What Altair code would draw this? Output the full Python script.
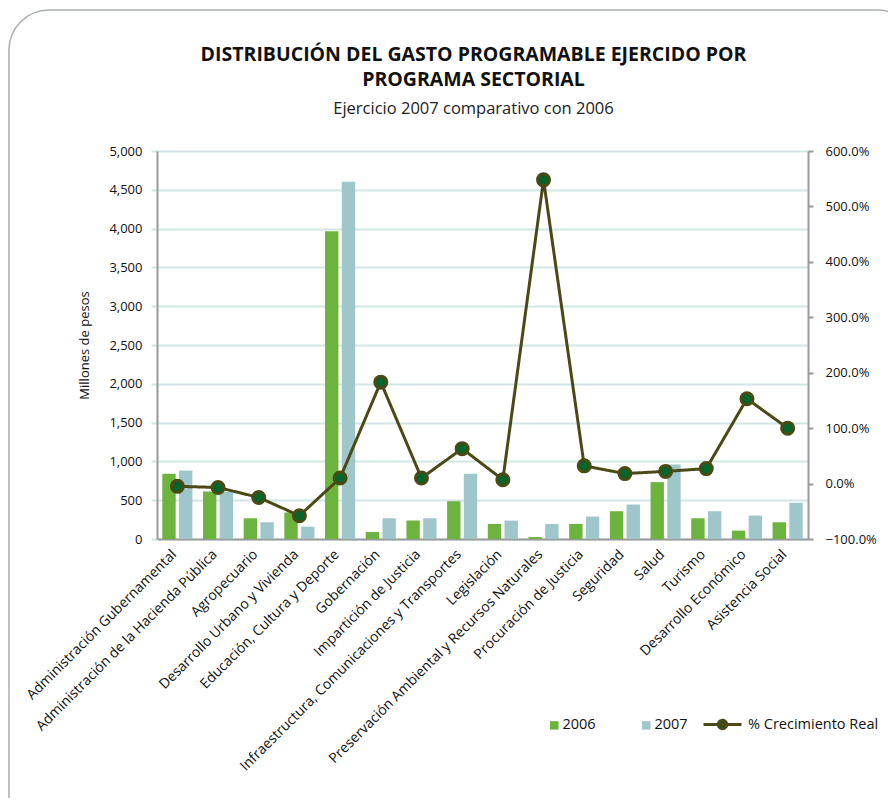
import altair as alt
import pandas as pd

categorias = [
    "Administración Gubernamental",
    "Administración de la Hacienda Pública",
    "Agropecuario",
    "Desarrollo Urbano y Vivienda",
    "Educación, Cultura y Deporte",
    "Gobernación",
    "Impartición de Justicia",
    "Infraestructura, Comunicaciones y Transportes",
    "Legislación",
    "Preservación Ambiental y Recursos Naturales",
    "Procuración de Justicia",
    "Seguridad",
    "Salud",
    "Turismo",
    "Desarrollo Económico",
    "Asistencia Social",
]
gasto_2006 = [840, 612, 267, 341, 3966, 90, 237, 487, 194, 25, 194, 358, 733, 267, 108, 216]
gasto_2007 = [884, 612, 216, 159, 4605, 267, 267, 840, 237, 194, 289, 444, 961, 358, 302, 466]
crecimiento_real = [-5, -7, -25, -58, 10, 183, 10, 63, 7, 548, 32, 18, 22, 27, 153, 100]
anios = ["2006", "2007"]
serie_linea = "% Crecimiento Real"

left_ticks = list(range(0, 5001, 500))
right_ticks = list(range(-100, 601, 100))

FONT = "Open Sans"
GREEN = "#6db43e"
BLUE = "#9fc6cb"
OLIVE = "#4b4a17"
DOT = "#00662a"
GRID = "#d2e5e7"
AXIS = "#9a9a9a"

rows = []
for c, a, b in zip(categorias, gasto_2006, gasto_2007):
    rows.append({"categoria": c, "anio": anios[0], "valor": a})
    rows.append({"categoria": c, "anio": anios[1], "valor": b})
bars_df = pd.DataFrame(rows)
line_df = pd.DataFrame({"categoria": categorias, "crec": crecimiento_real, "serie": serie_linea})
frame_df = pd.DataFrame({"k": [0]})

x_enc = alt.X(
    "categoria:N",
    sort=categorias,
    title=None,
    scale=alt.Scale(paddingInner=0.26, paddingOuter=0.13),
    axis=alt.Axis(
        labelAngle=-45, labelAlign="right", labelBaseline="middle",
        labelPadding=13, labelOffset=-3, ticks=False, tickSize=0, labelLimit=400,
        labelFontSize=14, labelColor="#111", labelFont=FONT,
        domainColor=AXIS, domainWidth=2, grid=False,
    ),
)

frame = alt.Chart(frame_df).mark_rect(
    fill="transparent", stroke="#a9b0ae", strokeWidth=1.5, cornerRadius=40
).encode(
    x=alt.value(-148), x2=alt.value(760), y=alt.value(-141), y2=alt.value(700)
)

bars = alt.Chart(bars_df).mark_bar().encode(
    x=x_enc,
    xOffset=alt.XOffset("anio:N", sort=anios, scale=alt.Scale(paddingInner=0.2, paddingOuter=0)),
    y=alt.Y(
        "valor:Q",
        scale=alt.Scale(domain=[0, 5000], nice=False),
        axis=alt.Axis(
            values=left_ticks, format=",d", grid=True, gridColor=GRID, gridWidth=2,
            domainColor=AXIS, domainWidth=2, tickColor=GRID, tickSize=6, tickWidth=2,
            labelPadding=9, labelFontSize=13, labelColor="#111", labelFont=FONT,
            title="Millones de pesos", titleFontSize=13, titleFontWeight="normal",
            titleFont=FONT, titleColor="#111", titlePadding=17,
        ),
    ),
    color=alt.Color(
        "anio:N",
        scale=alt.Scale(domain=anios, range=[GREEN, BLUE]),
        legend=alt.Legend(
            orient="none", legendX=390, legendY=567, direction="horizontal",
            title=None, symbolType="square", symbolSize=72, symbolStrokeWidth=0,
            labelOffset=1, columnPadding=43, labelFontSize=14.5, labelFont=FONT,
            labelColor="#111",
        ),
    ),
)

right_axis = alt.Axis(
    orient="right", values=right_ticks,
    labelExpr="format(datum.value, '.1f') + '%'",
    grid=False, domainColor=AXIS, domainWidth=2, tickColor=AXIS, tickSize=5,
    tickWidth=2, labelPadding=12, labelFontSize=13, labelColor="#111",
    labelFont=FONT, title=None,
)
y_right = alt.Y("crec:Q", scale=alt.Scale(domain=[-100, 600], nice=False), axis=right_axis)

legend_path = "M-1,0H1M-0.22,0A0.22,0.22,0,1,0,0.22,0A0.22,0.22,0,1,0,-0.22,0Z"

line = alt.Chart(line_df).mark_line(color=OLIVE, strokeWidth=3).encode(
    x=x_enc,
    y=y_right,
    strokeDash=alt.StrokeDash(
        "serie:N",
        scale=alt.Scale(domain=[serie_linea], range=[[1, 0]]),
        legend=alt.Legend(
            orient="none", legendX=545, legendY=553, title=None,
            symbolType=legend_path, symbolSize=1444, symbolStrokeWidth=3,
            symbolFillColor=DOT, symbolStrokeColor=OLIVE, labelOffset=5,
            labelFontSize=14.5, labelFont=FONT, labelColor="#111",
        ),
    ),
)

points = alt.Chart(line_df).mark_point(
    filled=True, shape="circle", fill=DOT, stroke=OLIVE, strokeWidth=3,
    size=144, opacity=1,
).encode(x=x_enc, y=y_right)

chart = alt.layer(frame, bars, alt.layer(line, points)).resolve_scale(
    y="independent"
).properties(
    width=651,
    height=388,
    autosize=alt.AutoSizeParams(type="none"),
    padding={"left": 149, "top": 143, "right": 80, "bottom": 259},
    title=alt.TitleParams(
        text=["DISTRIBUCIÓN DEL GASTO PROGRAMABLE EJERCIDO POR", "PROGRAMA SECTORIAL"],
        subtitle="Ejercicio 2007 comparativo con 2006",
        anchor="middle", frame="group", dx=-9,
        font=FONT, fontSize=19.5, fontWeight="bold", color="#111", lineHeight=25,
        subtitleFont=FONT, subtitleFontSize=16.5, subtitleColor="#222",
        subtitlePadding=10, offset=-109,
    ),
).configure_view(stroke=None).configure(background="white")

chart.save("out.html", embed_options={"renderer": "svg", "actions": False})
